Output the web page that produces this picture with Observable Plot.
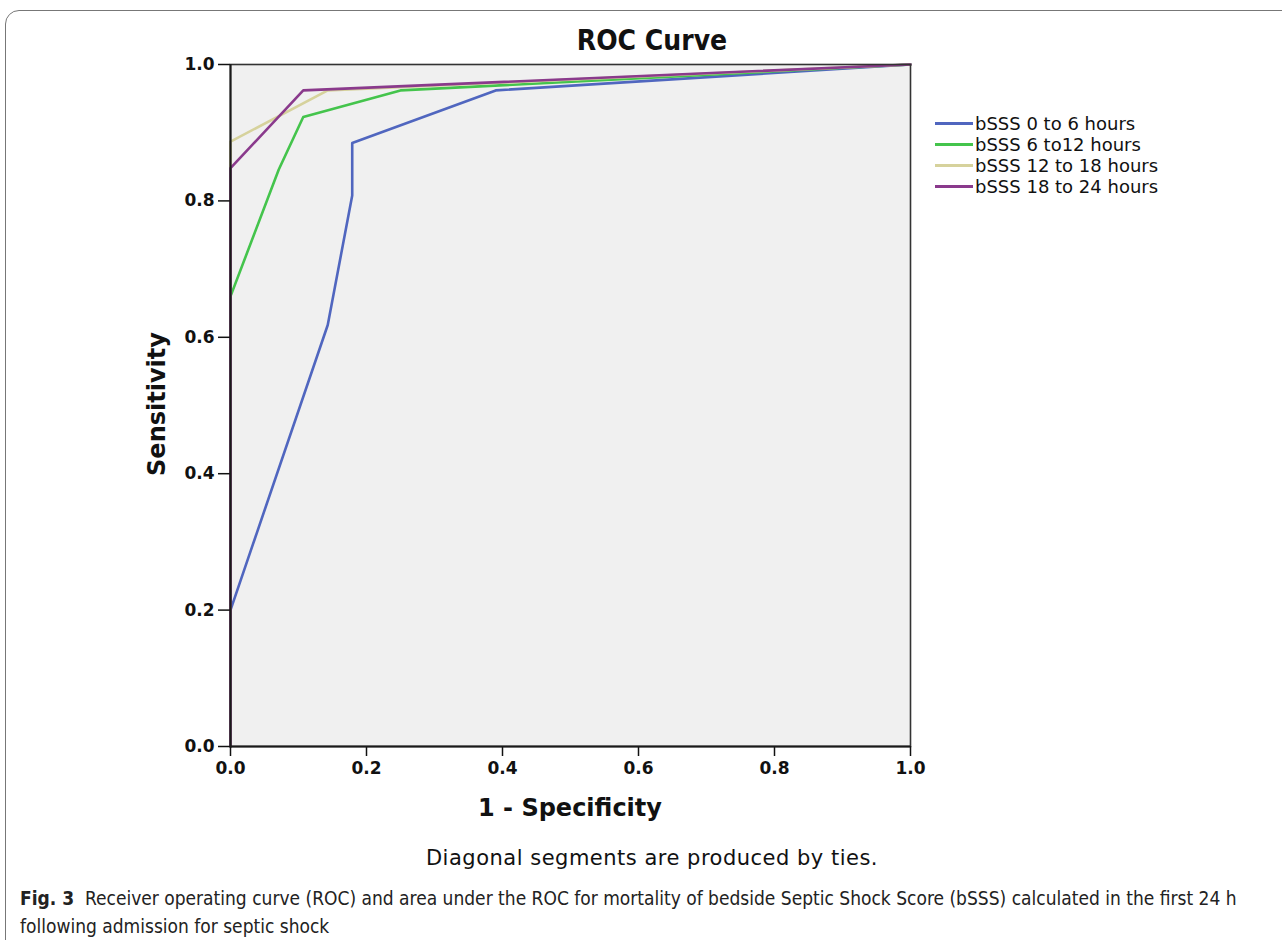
<!DOCTYPE html>
<html>
<head>
<meta charset="utf-8">
<script src="https://cdn.jsdelivr.net/npm/d3@7"></script>
<script src="https://cdn.jsdelivr.net/npm/@observablehq/plot@0.6"></script>
<style>
  html, body { margin: 0; padding: 0; background: #fff; overflow: hidden; }
  #page { position: relative; width: 1282px; height: 940px; overflow: hidden; }
  #border { position: absolute; left: 5px; top: 10px; width: 1320px; height: 980px; border: 1.5px solid #777; border-radius: 14px; box-sizing: border-box; }
  #chart { position: absolute; left: 0; top: 30px; }
  .t { position: absolute; white-space: nowrap; color: #111; }
  #title { left: 0; width: 1304px; top: 24px; text-align: center; font-family: "Liberation Sans Narrow", "DejaVu Sans Condensed", sans-serif; font-weight: bold; font-size: 28px; line-height: 34px; }
  #ylab { left: 157px; top: 404px; transform: translate(-50%, -50%) rotate(-90deg); font-family: "DejaVu Sans"; font-weight: bold; font-size: 24px; }
  #xlab { left: 570px; top: 808px; transform: translate(-50%, -50%); font-family: "DejaVu Sans"; font-weight: bold; font-size: 24px; }
  #ties { left: 652px; top: 858px; transform: translate(-50%, -50%); font-family: "DejaVu Sans", sans-serif; font-size: 21px; letter-spacing: 0.5px; }
  #caption { left: 20px; top: 884px; font-family: "Liberation Sans Narrow", "DejaVu Sans Condensed", sans-serif; font-size: 19px; line-height: 28px; color: #222; }
  #legend { position: absolute; left: 935px; top: 113px; font-family: "DejaVu Sans"; font-size: 18px; line-height: 21px; color: #111; }
  .row { display: flex; align-items: center; }
  .sw { width: 38px; height: 2.5px; margin-right: 2px; }
</style>
</head>
<body>
<div id="page">
  <div id="border"></div>
  <div id="title" class="t">ROC Curve</div>
  <div id="chart"></div>
  <div id="ylab" class="t">Sensitivity</div>
  <div id="xlab" class="t">1 - Specificity</div>
  <div id="legend"></div>
  <div id="ties" class="t">Diagonal segments are produced by ties.</div>
  <div id="caption" class="t"><b>Fig. 3</b>&nbsp; Receiver operating curve (ROC) and area under the ROC for mortality of bedside Septic Shock Score (bSSS) calculated in the first 24 h<br>following admission for septic shock</div>
</div>
<script>
// Series names and colours
const seriesNames = ["bSSS 0 to 6 hours", "bSSS 6 to12 hours", "bSSS 12 to 18 hours", "bSSS 18 to 24 hours"];
const seriesColors = ["#5066bf", "#44c44c", "#d6d29c", "#8a3a8c"];

// ROC points (1 - specificity, sensitivity)
const fpr0 = [0, 0, 0.143, 0.179, 0.179, 0.39, 1];
const tpr0 = [0, 0.2, 0.618, 0.808, 0.885, 0.962, 1];
const fpr1 = [0, 0, 0.071, 0.107, 0.25, 1];
const tpr1 = [0, 0.66, 0.846, 0.923, 0.962, 1];
const fpr2 = [0, 0, 0.143, 1];
const tpr2 = [0, 0.887, 0.962, 1];
const fpr3 = [0, 0, 0.107, 1];
const tpr3 = [0, 0.848, 0.962, 1];

const tickValues = [0, 0.2, 0.4, 0.6, 0.8, 1.0];

const fprs = [fpr0, fpr1, fpr2, fpr3];
const tprs = [tpr0, tpr1, tpr2, tpr3];
const data = [];
seriesNames.forEach((s, i) => {
  fprs[i].forEach((x, j) => data.push({series: s, x, y: tprs[i][j]}));
});

const chart = Plot.plot({
  width: 960,
  height: 756,
  marginLeft: 230,
  marginRight: 50,
  marginTop: 34,
  marginBottom: 40,
  style: {fontFamily: "DejaVu Sans", fontSize: "17px", fontWeight: "bold", color: "#111", background: "transparent"},
  x: {domain: [0, 1]},
  y: {domain: [0, 1]},
  color: {domain: seriesNames, range: seriesColors},
  marks: [
    Plot.frame({fill: "#f0f0f0", stroke: null}),
    Plot.line(data, {x: "x", y: "y", z: "series", stroke: "series", strokeWidth: 2.6}),
    Plot.frame({stroke: "#333", strokeWidth: 1.6}),
    Plot.axisX({ticks: tickValues, tickFormat: d3.format(".1f"), tickSize: 10, tickPadding: 5, label: null, stroke: "#111", strokeWidth: 1.5}),
    Plot.axisY({ticks: tickValues, tickFormat: d3.format(".1f"), tickSize: 12, tickPadding: 4, label: null, stroke: "#111", strokeWidth: 1.5}),
    Plot.ruleX([0], {stroke: "#1a1a1a", strokeWidth: 2}),
    Plot.ruleY([0], {stroke: "#1a1a1a", strokeWidth: 2})
  ]
});
document.getElementById("chart").appendChild(chart);

const legend = document.getElementById("legend");
seriesNames.forEach((s, i) => {
  const row = document.createElement("div");
  row.className = "row";
  const sw = document.createElement("span");
  sw.className = "sw";
  sw.style.background = seriesColors[i];
  const lab = document.createElement("span");
  lab.textContent = s;
  row.appendChild(sw);
  row.appendChild(lab);
  legend.appendChild(row);
});
</script>
</body>
</html>
